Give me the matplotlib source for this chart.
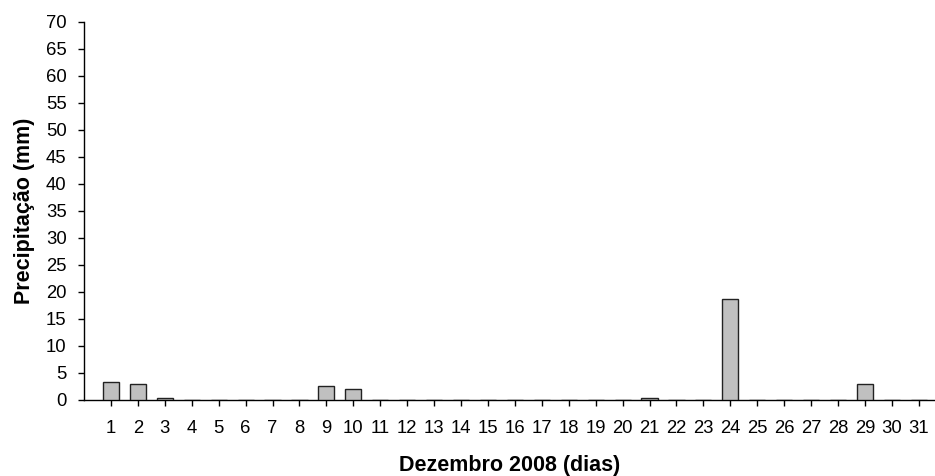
import matplotlib
matplotlib.use("Agg")
import matplotlib.pyplot as plt

days = list(range(1, 32))
precip = [3.4, 3.0, 0.4, 0, 0, 0, 0, 0, 2.5, 2.0,
          0, 0, 0, 0, 0, 0, 0, 0, 0, 0,
          0.3, 0, 0, 18.7, 0, 0, 0, 0, 3.0, 0, 0]
yticks = list(range(0, 75, 5))

plt.rcParams['font.family'] = ['Liberation Sans', 'DejaVu Sans']

fig = plt.figure(figsize=(9.35, 4.76), dpi=100)
ax = fig.add_axes([84/935, 1 - 400/476, (935 - 84)/935, (400 - 21.5)/476])

ax.bar(days, precip, width=0.6, color='#c0c0c0', edgecolor='#222222', linewidth=1.0, zorder=3)

ax.set_xlim(0, 31.6)
ax.set_ylim(0, 70)
ax.set_xticks(days)
ax.set_xticklabels([str(d) for d in days])
ax.set_yticks(yticks)
ax.set_yticklabels([str(v) for v in yticks])

for s in ['top', 'right']:
    ax.spines[s].set_visible(False)
for s in ['left', 'bottom']:
    ax.spines[s].set_color('black')
    ax.spines[s].set_linewidth(1.0)

ax.tick_params(axis='both', direction='out', length=4.5, width=1, colors='black', labelsize=13.3)
ax.tick_params(axis='x', pad=10)
ax.tick_params(axis='y', pad=8)

ax.set_xlabel('Dezembro 2008 (dias)', fontsize=15.5, fontweight='bold', labelpad=13)
ax.set_ylabel('Precipitação (mm)', fontsize=15.5, fontweight='bold', labelpad=8)

fig.savefig('out.png', dpi=100)
